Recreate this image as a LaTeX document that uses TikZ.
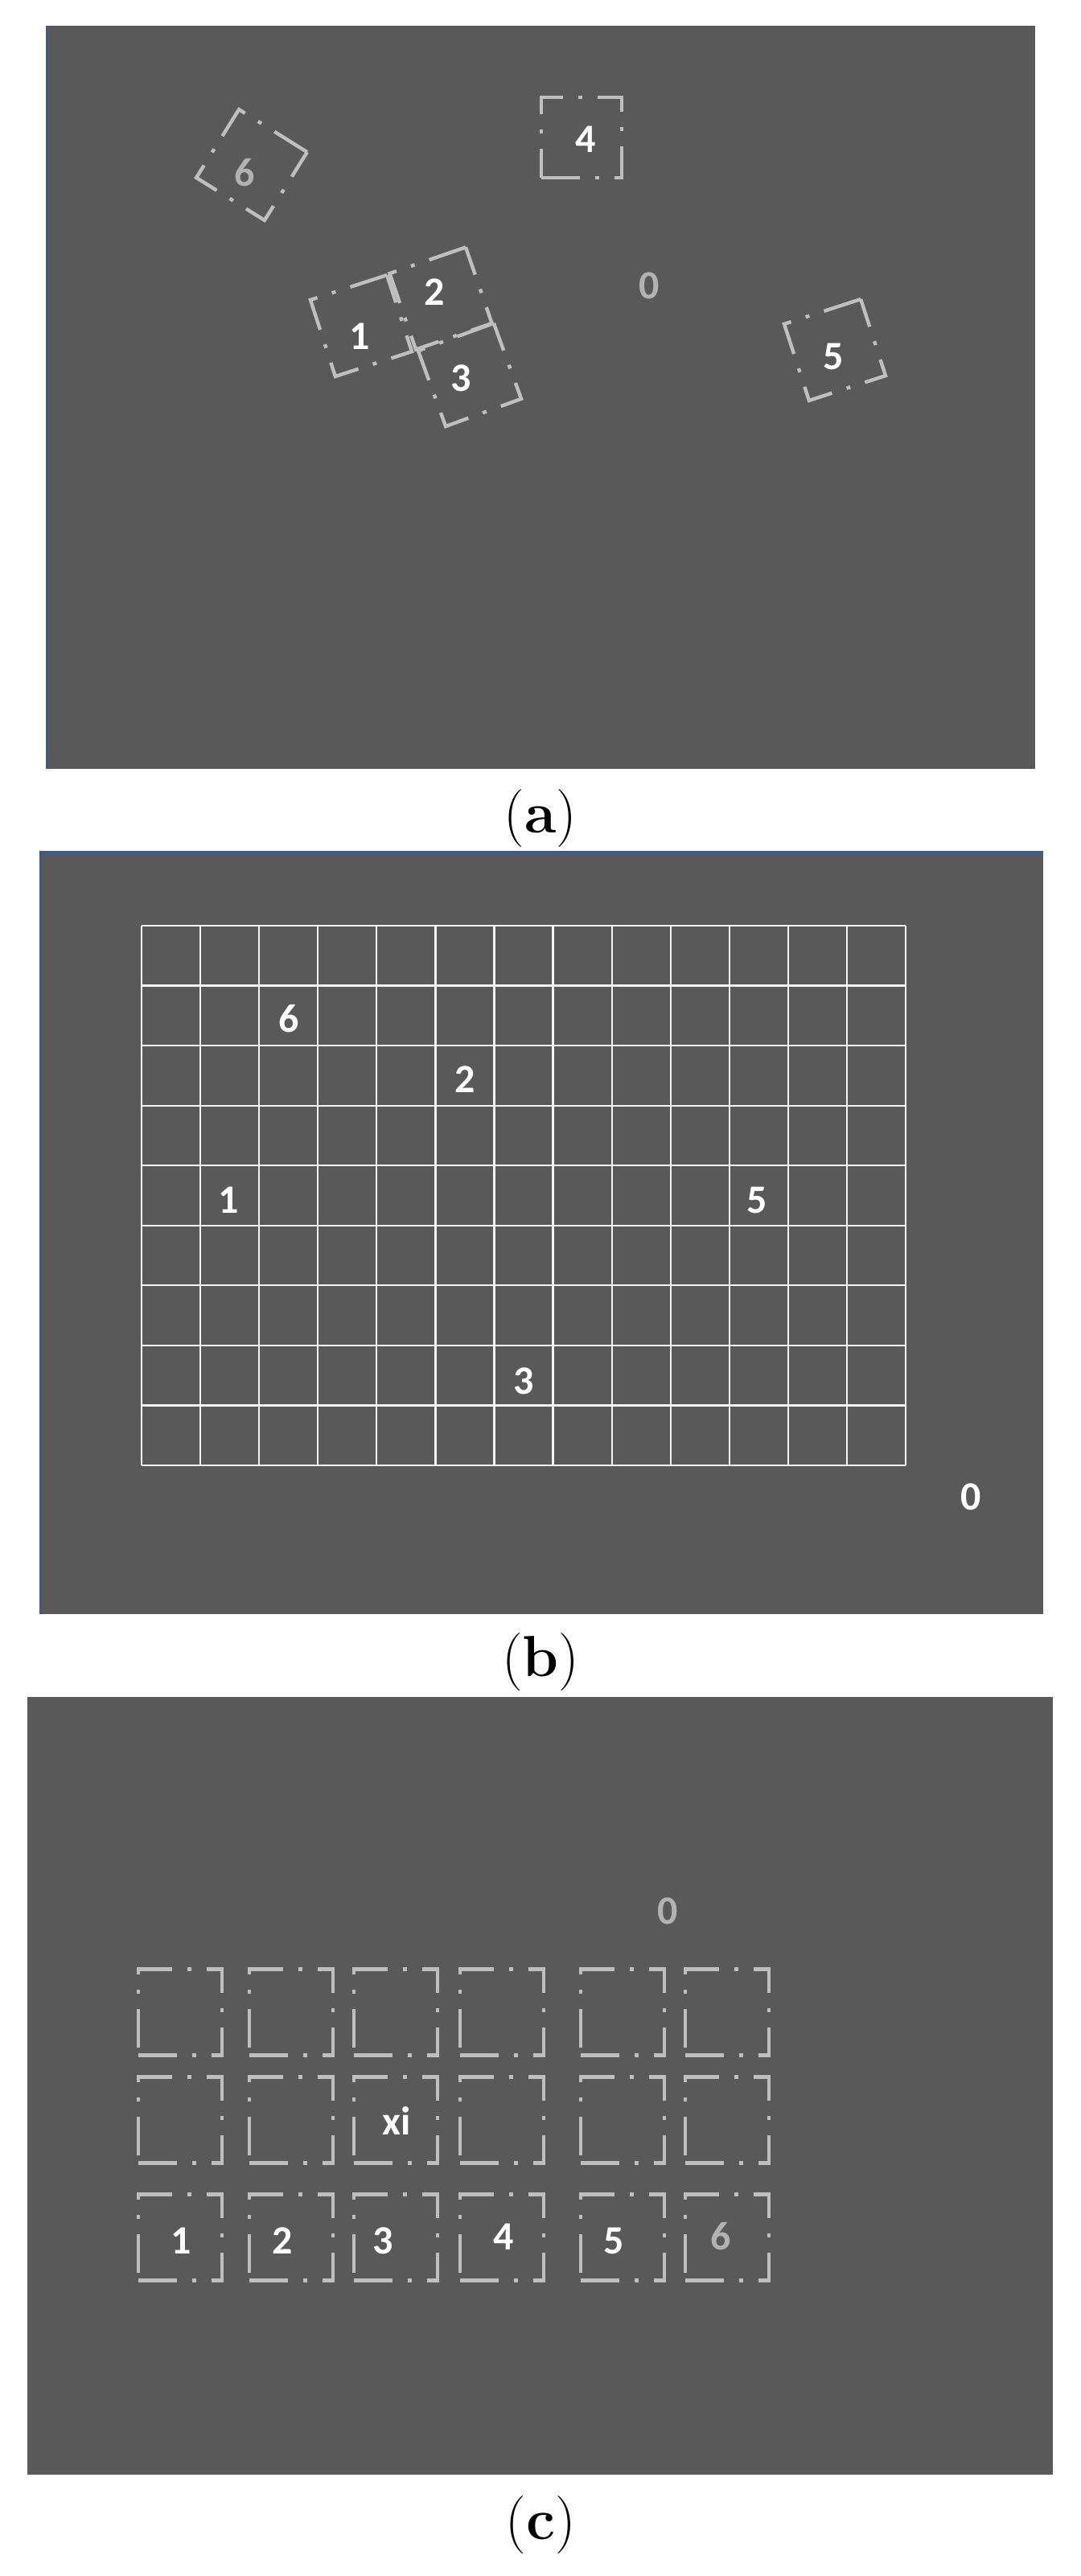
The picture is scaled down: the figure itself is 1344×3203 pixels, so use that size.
\documentclass[tikz,border=0pt]{standalone}
\usepackage{fontspec}
\newfontfamily\labelfont{Carlito}
\definecolor{panelgray}{HTML}{595959}
\definecolor{markgray}{HTML}{BFBFBF}
\definecolor{dimgray}{HTML}{B2B2B2}
\definecolor{edgeblue}{RGB}{58,90,140}

\begin{document}
\begin{tikzpicture}[x=0.5pt, y=-0.5pt,
    markbox/.style={rectangle, draw=markgray, line width=2.2pt, dash pattern=on 24pt off 9.5pt on 2.5pt off 9.5pt, minimum size=50pt, inner sep=0pt},
    cellbox/.style={markbox, minimum width=52pt, minimum height=53.5pt},
    tag/.style={text=white, font=\labelfont\bfseries\fontsize{25}{30}\selectfont, inner sep=0pt},
    dimtag/.style={tag, text=dimgray},
    gridline/.style={draw=white!92!gray, line width=1.1pt},
    caption/.style={font=\fontsize{36}{40}\selectfont, inner sep=0pt}]
    \useasboundingbox (0,0) rectangle (1344,3203);

    % (a) scattered marks
    \fill[panelgray] (57,32) rectangle (1287,956);
    \fill[edgeblue] (57,32) rectangle (60,956);
    \node[markbox, rotate=-32] (boxA6) at (313,205) {};
    \node[markbox] (boxA4) at (723,171) {};
    \node[markbox, rotate=18] (boxA1) at (449,405) {};
    \node[markbox, rotate=19] (boxA2) at (548,371) {};
    \node[markbox, rotate=20] (boxA3) at (584,466) {};
    \node[markbox, rotate=18] (boxA5) at (1038,435) {};
    \node[dimtag] (tagA6) at (304,215) {6};
    \node[tag] (tagA4) at (728,173) {4};
    \node[tag] (tagA1) at (447,418) {1};
    \node[tag] (tagA2) at (540,363) {2};
    \node[tag] (tagA3) at (573,470) {3};
    \node[tag] (tagA5) at (1036,443) {5};
    \node[dimtag] (tagA0) at (807,355) {0};
    \node[caption] (capA) at (672,1018) {(\textbf{a})};

    % (b) grid
    \fill[panelgray] (49,1058) rectangle (1297,2007);
    \fill[edgeblue] (49,1058) rectangle (52,2007);
    \fill[edgeblue] (49,1058) rectangle (1297,1061);
    \foreach \i in {0,...,13}
        \draw[gridline] (176+\i*73.08,1151) -- (176+\i*73.08,1822);
    \foreach \j in {0,...,9}
        \draw[gridline] (176,1151+\j*74.56) -- (1126,1151+\j*74.56);
    \node[tag] (tagB6) at (359,1267) {6};
    \node[tag] (tagB2) at (578,1342) {2};
    \node[tag] (tagB1) at (284,1492) {1};
    \node[tag] (tagB5) at (941,1492) {5};
    \node[tag] (tagB3) at (651,1717) {3};
    \node[tag] (tagB0) at (1207,1861) {0};
    \node[caption] (capB) at (672,2067) {(\textbf{b})};

    % (c) ordered slots
    \fill[panelgray] (34,2110) rectangle (1309,3077);
    \foreach \c/\xc in {1/224, 2/362, 3/492, 4/624, 5/774, 6/904}
        \foreach \r/\yc in {1/2502, 2/2636, 3/2782}
            \node[cellbox] (cell\r\c) at (\xc,\yc) {};
    \node[dimtag] (tagC0) at (830,2376) {0};
    \node[tag] (tagXi) at (493,2637) {xi};
    \node[tag] (tagC1) at (225,2786) {1};
    \node[tag] (tagC2) at (351,2786) {2};
    \node[tag] (tagC3) at (476,2786) {3};
    \node[tag] (tagC4) at (626,2781) {4};
    \node[tag] (tagC5) at (763,2786) {5};
    \node[dimtag] (tagC6) at (896,2781) {6};
    \node[caption] (capC) at (672,3139) {(\textbf{c})};
\end{tikzpicture}
\end{document}
